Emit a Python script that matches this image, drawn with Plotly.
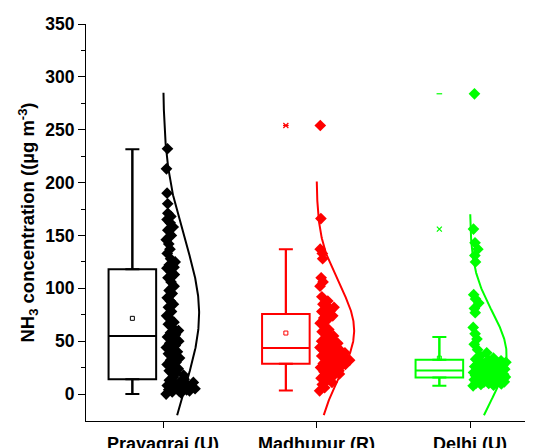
import numpy as np
import plotly.graph_objects as go

categories = ["Prayagraj (U)", "Madhupur (R)", "Delhi (U)"]
cat_pos = [1, 2, 3]
colors = ["#000000", "#FF0000", "#00FF00"]

prayagraj = [232, 213, 190, 180, 171, 168, 165, 162, 158, 155, 150, 146, 142, 137, 133, 128, 125, 122, 120, 119,
             116, 113, 110, 106, 102, 98, 95, 91, 88, 85, 82, 78, 74, 71, 68, 66, 63, 60, 58, 56,
             54, 52, 50, 48, 46, 44, 42, 40, 38, 36, 34, 32, 30, 28, 26, 24, 22, 20, 18, 16,
             14, 13, 12, 11, 10, 9, 8, 8, 7, 6, 6, 5, 5, 4, 4, 3, 3, 2, 1, 0]
madhupur = [254, 166, 137, 133, 128, 110, 106, 102, 92, 88, 85, 83, 82, 80, 79, 78, 77,
            74, 72, 70, 67, 64, 61, 59, 57, 55, 53, 51, 50, 49, 48, 46, 45, 44,
            43, 42, 41, 40, 39, 38, 37, 36, 35, 34, 33, 32, 32, 31, 30, 29, 29,
            28, 27, 26, 25, 24, 22, 21, 20, 19, 18, 16, 15, 13, 11, 9, 6, 3]
delhi = [284, 156, 143, 137, 131, 125, 94, 90, 86, 81, 77, 63, 57, 52, 47, 42, 39, 36, 34, 33,
         32, 31.5, 31, 30.5, 30, 29.5, 29, 28.5, 28, 27.5, 27, 26.5, 26, 25.5, 25, 24.5, 24, 23.5, 23, 22.5,
         22, 21.7, 21.3, 21, 20.6, 20.3, 20, 19.6, 19.3, 19, 18.6, 18.3, 18, 17.6, 17.3, 17, 16.6, 16.3, 16, 15.8,
         15.5, 15.2, 15, 14.6, 14.3, 14, 13.6, 13.2, 12.8, 12.4, 12, 11.6, 11.2, 10.8, 10.4, 10, 9.5, 9, 8.4, 7.8]
series = [prayagraj, madhupur, delhi]

# box statistics
q1 = [14, 28.7, 15.7]
median = [55, 43.5, 22.3]
q3 = [118, 75.7, 32.4]
whisker_low = [0, 3.4, 7.8]
whisker_high = [231.5, 137, 54]
means = [71.6, 57.7, 34]
pct99 = [None, 254, 156]
maxima = [None, 254, 284]

# normal distribution fit
fit_mean = [76, 60, 37]
fit_sd = [70, 44, 41]
curve_top = [285, 201, 170]
curve_bottom = -20
curve_peak = [0.235, 0.245, 0.238]

box_offset = -0.2
box_width = 0.31


def jitter_offsets(vals):
    v = np.array(vals, dtype=float)
    order = np.argsort(v)
    off = np.empty(len(v))
    for rank, i in enumerate(order):
        dens = np.sum(np.abs(v - v[i]) <= 8)
        spread = min(0.215, 0.0105 * dens)
        frac = (rank * 0.618034) % 1
        off[i] = 0.02 + spread * frac
    return off


fig = go.Figure()

for k in range(3):
    c = colors[k]
    bx = cat_pos[k] + box_offset
    fig.add_trace(go.Scatter(
        x=[bx, bx], y=[q3[k], q1[k]], mode="markers",
        marker=dict(size=1, color="rgba(0,0,0,0)"),
        error_y=dict(type="data", symmetric=False,
                     array=[whisker_high[k] - q3[k], 0],
                     arrayminus=[0, q1[k] - whisker_low[k]],
                     width=7, thickness=2, color=c),
        showlegend=False, hoverinfo="skip"))
    fig.add_trace(go.Box(
        x=[bx], q1=[q1[k]], median=[median[k]], q3=[q3[k]],
        lowerfence=[whisker_low[k]], upperfence=[whisker_high[k]],
        width=box_width, fillcolor="rgba(255,255,255,0)",
        line=dict(color=c, width=2), whiskerwidth=0,
        boxpoints=False, showlegend=False, hoverinfo="skip"))

for k in range(3):
    c = colors[k]
    bx = cat_pos[k] + box_offset
    fig.add_trace(go.Scatter(
        x=[bx], y=[means[k]], mode="markers",
        marker=dict(symbol="square-open", size=4, color=c, line=dict(width=1, color=c)),
        showlegend=False, hoverinfo="skip"))
    if pct99[k] is not None:
        fig.add_trace(go.Scatter(
            x=[bx], y=[pct99[k]], mode="markers",
            marker=dict(symbol="x-thin-open", size=5, color=c, line=dict(width=1.2, color=c)),
            showlegend=False, hoverinfo="skip"))
    if maxima[k] is not None:
        fig.add_trace(go.Scatter(
            x=[bx], y=[maxima[k]], mode="markers",
            marker=dict(symbol="line-ew-open", size=4, color=c, line=dict(width=1.2, color=c)),
            showlegend=False, hoverinfo="skip"))
    off = jitter_offsets(series[k])
    fig.add_trace(go.Scatter(
        x=cat_pos[k] + off, y=series[k], mode="markers",
        marker=dict(symbol="diamond", size=9, color=c, line=dict(width=0)),
        showlegend=False, hoverinfo="skip"))
    yy = np.linspace(curve_bottom, curve_top[k], 300)
    xx = cat_pos[k] + curve_peak[k] * np.exp(-(yy - fit_mean[k]) ** 2 / (2 * fit_sd[k] ** 2))
    fig.add_trace(go.Scatter(
        x=xx, y=yy, mode="lines", line=dict(color=c, width=2),
        showlegend=False, hoverinfo="skip"))

fig.update_layout(
    width=525, height=440,
    margin=dict(l=78, r=0, t=16, b=27),
    plot_bgcolor="white", paper_bgcolor="white",
    font=dict(family="Liberation Sans, Arial", color="black"),
    boxmode="overlay",
    xaxis=dict(
        range=[0.498, 3.41], tickvals=cat_pos, ticktext=["<b>%s</b>" % t for t in categories],
        tickfont=dict(size=18), ticks="outside", ticklen=6, tickwidth=1, tickcolor="black",
        showline=True, linecolor="black", linewidth=1, showgrid=False, zeroline=False,
        automargin=False),
    yaxis=dict(
        range=[-25.5, 350], tickvals=[0, 50, 100, 150, 200, 250, 300, 350],
        ticktext=["<b>%d</b>" % v for v in [0, 50, 100, 150, 200, 250, 300, 350]],
        tickfont=dict(size=17.5), ticks="outside", ticklen=7, tickwidth=1, tickcolor="black",
        minor=dict(tickvals=[25, 75, 125, 175, 225, 275, 325], ticks="outside", ticklen=4, tickcolor="black"),
        showline=True, linecolor="black", linewidth=1, showgrid=False, zeroline=False,
        automargin=False,
        title=dict(text="<b>NH<sub>3</sub> concentration ((µg m<sup>-3</sup>)</b>", font=dict(size=18.5), standoff=5)),
)

fig.write_html("out.html")
